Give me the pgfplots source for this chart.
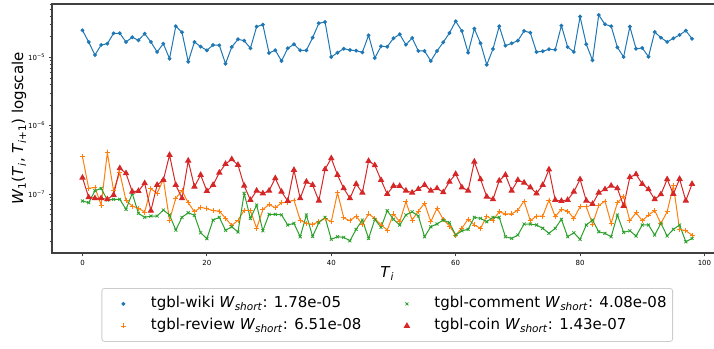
\documentclass[border=0pt]{standalone}
\usepackage{fontspec}
\setmainfont{DejaVu Sans}
\usepackage{pgfplots}
\pgfplotsset{compat=1.18}
\usepackage{pgfplotstable}
\definecolor{c0}{HTML}{1F77B4}
\definecolor{c1}{HTML}{FF7F0E}
\definecolor{c2}{HTML}{2CA02C}
\definecolor{c3}{HTML}{D62728}
\pgfplotstableread{
i wiki review comment coin
0 2.48e-5 3.52e-7 0.79e-7 1.73e-7
1 1.675e-5 1.21e-7 0.746e-7 0.895e-7
2 1.08e-5 1.25e-7 1.117e-7 0.865e-7
3 1.514e-5 0.69e-7 1.21e-7 0.865e-7
4 1.58e-5 4.03e-7 0.817e-7 0.836e-7
5 2.245e-5 1.117e-7 0.836e-7 0.967e-7
6 2.245e-5 2.05e-7 0.836e-7 2.38e-7
7 1.675e-5 0.798e-7 0.597e-7 2.01e-7
8 1.963e-5 0.667e-7 1.02e-7 1.08e-7
9 1.774e-5 0.618e-7 0.521e-7 1.106e-7
10 2.216e-5 0.545e-7 0.456e-7 1.435e-7
11 1.675e-5 1.196e-7 0.476e-7 0.57e-7
12 1.196e-5 1.02e-7 0.476e-7 1.355e-7
13 1.58e-5 1.64e-7 0.583e-7 1.60e-7
14 0.954e-5 0.416e-7 0.493e-7 3.72e-7
15 2.844e-5 0.865e-7 0.297e-7 1.355e-7
16 2.323e-5 1.117e-7 0.456e-7 0.865e-7
17 0.862e-5 0.746e-7 0.532e-7 3.07e-7
18 1.675e-5 0.55e-7 0.488e-7 1.28e-7
19 1.43e-5 0.639e-7 0.271e-7 1.90e-7
20 1.266e-5 0.61e-7 0.222e-7 1.106e-7
21 1.514e-5 0.57e-7 0.416e-7 1.355e-7
22 1.498e-5 0.564e-7 0.456e-7 2.05e-7
23 0.806e-5 0.44e-7 0.294e-7 2.75e-7
24 1.415e-5 0.348e-7 0.332e-7 3.22e-7
25 1.834e-5 0.41e-7 0.278e-7 2.66e-7
26 1.75e-5 0.58e-7 1.02e-7 1.32e-7
27 1.354e-5 0.57e-7 0.44e-7 0.817e-7
28 2.805e-5 0.315e-7 0.69e-7 1.117e-7
29 3.0e-5 0.59e-7 0.29e-7 1.02e-7
30 1.156e-5 0.706e-7 0.505e-7 1.117e-7
31 1.27e-5 0.627e-7 0.505e-7 1.70e-7
32 0.883e-5 0.746e-7 0.495e-7 1.08e-7
33 1.354e-5 0.756e-7 0.352e-7 0.79e-7
34 1.55e-5 0.817e-7 0.372e-7 2.245e-7
35 1.266e-5 0.416e-7 0.237e-7 0.865e-7
36 1.266e-5 0.372e-7 0.493e-7 1.514e-7
37 1.936e-5 0.36e-7 0.24e-7 1.355e-7
38 3.147e-5 0.393e-7 0.38e-7 0.798e-7
39 3.288e-5 0.44e-7 0.456e-7 2.30e-7
40 1.01e-5 0.393e-7 0.217e-7 3.33e-7
41 1.168e-5 1.045e-7 0.237e-7 1.90e-7
42 1.336e-5 0.45e-7 0.232e-7 1.21e-7
43 1.279e-5 0.406e-7 0.207e-7 0.865e-7
44 1.249e-5 0.476e-7 0.304e-7 1.40e-7
45 1.184e-5 0.36e-7 0.416e-7 1.045e-7
46 2.1e-5 0.51e-7 0.224e-7 3.04e-7
47 0.977e-5 0.44e-7 0.426e-7 2.63e-7
48 1.449e-5 0.352e-7 0.325e-7 1.60e-7
49 1.43e-5 0.297e-7 0.57e-7 1.0e-7
50 1.897e-5 0.51e-7 0.426e-7 1.31e-7
51 2.172e-5 0.393e-7 0.352e-7 1.31e-7
52 1.529e-5 0.772e-7 0.493e-7 1.117e-7
53 1.917e-5 0.416e-7 0.55e-7 1.045e-7
54 1.237e-5 0.564e-7 0.476e-7 1.18e-7
55 1.237e-5 0.731e-7 0.237e-7 1.355e-7
56 0.883e-5 0.393e-7 0.332e-7 1.117e-7
57 1.237e-5 0.618e-7 0.364e-7 1.21e-7
58 1.658e-5 0.426e-7 0.416e-7 1.06e-7
59 2.269e-5 0.34e-7 0.38e-7 1.514e-7
60 3.367e-5 0.251e-7 0.251e-7 1.96e-7
61 2.427e-5 0.315e-7 0.29e-7 1.25e-7
62 1.168e-5 0.43e-7 0.304e-7 1.117e-7
63 2.623e-5 0.352e-7 0.456e-7 2.97e-7
64 1.603e-5 0.315e-7 0.44e-7 1.64e-7
65 0.779e-5 0.476e-7 0.393e-7 0.913e-7
66 1.323e-5 0.416e-7 0.456e-7 0.836e-7
67 2.844e-5 0.55e-7 0.456e-7 1.566e-7
68 1.478e-5 0.51e-7 0.237e-7 1.90e-7
69 1.603e-5 0.51e-7 0.224e-7 1.117e-7
70 1.75e-5 0.583e-7 0.251e-7 1.60e-7
71 2.427e-5 0.79e-7 0.364e-7 1.463e-7
72 2.291e-5 0.406e-7 0.364e-7 1.25e-7
73 1.196e-5 0.476e-7 0.352e-7 1.02e-7
74 1.224e-5 0.476e-7 0.315e-7 1.355e-7
75 1.31e-5 0.817e-7 0.266e-7 2.28e-7
76 1.292e-5 0.466e-7 0.315e-7 0.817e-7
77 2.902e-5 0.597e-7 0.426e-7 0.79e-7
78 1.415e-5 0.564e-7 0.237e-7 0.817e-7
79 1.196e-5 0.44e-7 0.271e-7 1.08e-7
80 3.93e-5 0.652e-7 0.217e-7 1.64e-7
81 1.55e-5 0.652e-7 0.352e-7 0.798e-7
82 0.904e-5 0.364e-7 0.416e-7 0.714e-7
83 4.16e-5 0.674e-7 0.28e-7 1.045e-7
84 3.04e-5 0.79e-7 0.266e-7 1.17e-7
85 2.844e-5 0.372e-7 0.237e-7 1.32e-7
86 1.40e-5 0.746e-7 0.493e-7 1.21e-7
87 1.01e-5 0.913e-7 0.275e-7 0.667e-7
88 2.805e-5 0.406e-7 0.29e-7 1.757e-7
89 1.336e-5 0.532e-7 0.243e-7 1.94e-7
90 1.368e-5 0.406e-7 0.352e-7 1.40e-7
91 1.02e-5 0.493e-7 0.352e-7 1.17e-7
92 2.345e-5 0.57e-7 0.251e-7 0.836e-7
93 1.936e-5 0.372e-7 0.372e-7 0.99e-7
94 1.675e-5 0.55e-7 0.243e-7 1.64e-7
95 1.897e-5 1.33e-7 0.304e-7 1.0e-7
96 2.121e-5 0.304e-7 0.352e-7 1.66e-7
97 2.453e-5 0.29e-7 0.2e-7 0.798e-7
98 1.872e-5 0.251e-7 0.224e-7 1.40e-7
}\data
\begin{document}
\begin{tikzpicture}
\useasboundingbox (-52pt,-95pt) rectangle (662pt,253pt);
\begin{axis}[
  at={(0pt,0pt)}, anchor=south west,
  scale only axis, width=670.5pt, height=249pt,
  xmin=-4.9, xmax=102.9,
  ymode=log, ymin=1.37e-8, ymax=6.02e-5,
  xtick={0,20,40,60,80,100},
  ytick={1e-7,1e-6,1e-5},
  yticklabels={10\textsuperscript{−7},10\textsuperscript{−6},10\textsuperscript{−5}},
  minor ytick={2e-8,3e-8,4e-8,5e-8,6e-8,7e-8,8e-8,9e-8,2e-7,3e-7,4e-7,5e-7,6e-7,7e-7,8e-7,9e-7,2e-6,3e-6,4e-6,5e-6,6e-6,7e-6,8e-6,9e-6,2e-5,3e-5,4e-5,5e-5,6e-5},
  tick pos=left, tick align=outside,
  major tick length=3.5pt, minor tick length=2pt,
  tick style={black!75, line width=0.8pt},
  minor tick style={black!75, line width=0.6pt},
  axis line style={black!75, line width=1.2pt},
  ticklabel style={font=\fontsize{7}{8}\selectfont},
  /pgf/number format/assume math mode=true,
  xlabel={\textit{T}\textsubscript{\textit{i}}},
  ylabel={\textit{W}\textsubscript{1}(\textit{T}\textsubscript{\textit{i}}, \textit{T}\textsubscript{\textit{i}+1}) logscale},
  every axis x label/.style={at={(axis description cs:0.5,0)}, yshift=-21pt, anchor=center, font=\fontsize{15}{18}\selectfont},
  every axis y label/.style={at={(axis description cs:0,0.5)}, xshift=-33pt, rotate=90, anchor=center, font=\fontsize{15}{18}\selectfont},
  legend columns=2, transpose legend,
  legend cell align=left,
  legend style={at={(axis description cs:0.5,-0.1406)}, anchor=north,
    font=\fontsize{15}{18}\selectfont, draw=black!20, line width=0.8pt, rounded corners=2.5pt,
    inner xsep=6pt, inner ysep=8pt, row sep=7pt,
    nodes={inner sep=0pt, text height=11pt, text depth=4pt},
    /tikz/every odd column/.append style={column sep=12pt},
    /tikz/every even column/.append style={column sep=30pt}},
  legend image code/.code={\path (0pt,0pt) (30pt,0pt); \draw[#1, sharp corners] plot coordinates {(15pt,0pt)};},
]
\addplot[c0, line width=1pt, mark=*, mark size=1.4pt] table[x=i,y=wiki]{\data};
\addlegendentry{tgbl-wiki \textit{W}\textsubscript{\textit{short}}: 1.78e-05}
\addplot[c1, line width=1pt, mark=+, mark size=2.5pt, mark options={line width=0.8pt}] table[x=i,y=review]{\data};
\addlegendentry{tgbl-review \textit{W}\textsubscript{\textit{short}}: 6.51e-08}
\addplot[c2, line width=1pt, mark=x, mark size=2.1pt, mark options={line width=0.8pt}] table[x=i,y=comment]{\data};
\addlegendentry{tgbl-comment \textit{W}\textsubscript{\textit{short}}: 4.08e-08}
\addplot[c3, line width=1pt, mark=triangle*, mark size=2.8pt] table[x=i,y=coin]{\data};
\addlegendentry{tgbl-coin \textit{W}\textsubscript{\textit{short}}: 1.43e-07}
\end{axis}
\end{tikzpicture}
\end{document}
